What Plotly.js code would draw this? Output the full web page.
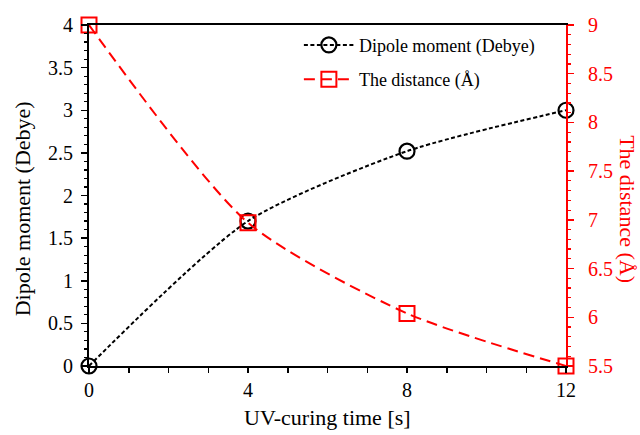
<!DOCTYPE html>
<html>
<head>
<meta charset="utf-8">
<script src="https://cdn.plot.ly/plotly-3.0.1.min.js"></script>
<style>html,body{margin:0;padding:0;background:#fff;}#chart{width:640px;height:435px;}</style>
</head>
<body>
<div id="chart"></div>
<script>
const curingTime = [0, 4, 8, 12];
const dipoleMoment = [0, 1.70, 2.52, 3.00];
const distance = [9.0, 6.97, 6.04, 5.5];
const xTickVals = [0, 4, 8, 12];

const FONT = "Liberation Serif, Times New Roman, serif";

const traces = [
  {
    x: curingTime, y: dipoleMoment, name: "Dipole moment (Debye)",
    type: "scatter", mode: "lines+markers", yaxis: "y", legendgroup: "a",
    line: {color: "#000", width: 2, dash: "4px,2.5px", shape: "spline", smoothing: 0.7},
    marker: {symbol: "circle-open", size: 15, color: "#000", line: {width: 2.2, color: "#000"}},
    cliponaxis: false
  },
  {
    x: curingTime, y: distance, name: "The distance (Å)",
    type: "scatter", mode: "lines+markers", yaxis: "y2", legendgroup: "b",
    line: {color: "#ff0000", width: 2, dash: "11px,6px", shape: "spline", smoothing: 0.7},
    marker: {symbol: "square-open", size: 15, color: "#ff0000", line: {width: 2, color: "#ff0000"}},
    cliponaxis: false
  }
];

const layout = {
  width: 640, height: 435,
  margin: {l: 89, r: 74, t: 25, b: 69},
  paper_bgcolor: "#fff", plot_bgcolor: "#fff",
  font: {family: FONT, size: 20, color: "#000"},
  showlegend: true,
  legend: {
    x: 0.44, y: 0.995, xanchor: "left", yanchor: "top",
    bgcolor: "rgba(0,0,0,0)", borderwidth: 0,
    font: {family: FONT, size: 18, color: "#000"},
    traceorder: "grouped", tracegroupgap: 8, itemwidth: 50
  },
  xaxis: {
    range: [0, 12], tickvals: xTickVals, ticks: "outside", ticklen: 5, tickwidth: 1.5,
    tickcolor: "#000", showline: true, linecolor: "#000", linewidth: 2, mirror: true,
    showgrid: false, zeroline: false, tickfont: {family: FONT, size: 20, color: "#000"},
    minor: {dtick: 1, ticks: "outside", ticklen: 5, tickwidth: 1.5, tickcolor: "#000", showgrid: false}
  },
  yaxis: {
    range: [0, 4], dtick: 0.5, ticks: "outside", ticklen: 6, tickwidth: 1.5, tickcolor: "#000",
    showline: true, linecolor: "#000", linewidth: 2, showgrid: false, zeroline: false,
    tickfont: {family: FONT, size: 20, color: "#000"}, ticklabelstandoff: 4,
    minor: {dtick: 0.1, ticks: "outside", ticklen: 3, tickwidth: 1.2, tickcolor: "#000", showgrid: false}
  },
  yaxis2: {
    overlaying: "y", side: "right", range: [5.5, 9], dtick: 0.5,
    ticks: "outside", ticklen: 6, tickwidth: 1.5, tickcolor: "#ff0000",
    showline: true, linecolor: "#ff0000", linewidth: 2, showgrid: false, zeroline: false,
    tickfont: {family: FONT, size: 20, color: "#ff0000"}, ticklabelstandoff: 10,
    minor: {dtick: 0.1, ticks: "outside", ticklen: 3, tickwidth: 1.2, tickcolor: "#ff0000", showgrid: false}
  },
  annotations: [
    {text: "UV-curing time [s]", xref: "paper", yref: "paper", x: 0.5, y: -0.152,
     xanchor: "center", yanchor: "middle", showarrow: false, font: {family: FONT, size: 22, color: "#000"}},
    {text: "Dipole moment (Debye)", xref: "paper", yref: "paper", x: -0.14, y: 0.46,
     xanchor: "center", yanchor: "middle", textangle: -90, showarrow: false, font: {family: FONT, size: 22, color: "#000"}},
    {text: "The distance (Å)", xref: "paper", yref: "paper", x: 1.13, y: 0.46,
     xanchor: "center", yanchor: "middle", textangle: 90, showarrow: false, font: {family: FONT, size: 22, color: "#ff0000"}}
  ]
};

Plotly.newPlot("chart", traces, layout, {displayModeBar: false, staticPlot: true});
</script>
</body>
</html>
